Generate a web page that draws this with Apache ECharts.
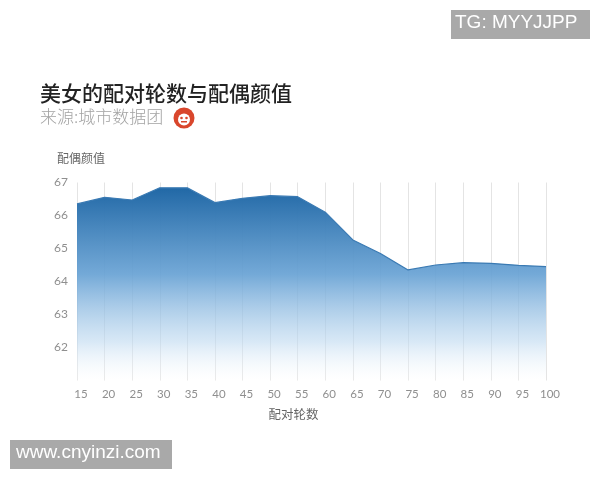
<!DOCTYPE html>
<html>
<head>
<meta charset="utf-8">
<script src="https://cdn.jsdelivr.net/npm/echarts@6/dist/echarts.min.js"></script>
<style>
html,body{margin:0;padding:0;background:#fff;}
#c{width:600px;height:480px;}
</style>
</head>
<body>
<div id="c"></div>
<script>
var rounds = ['15','20','25','30','35','40','45','50','55','60','65','70','75','80','85','90','95','100'];
var spouseScore = [66.35, 66.55, 66.47, 66.84, 66.84, 66.39, 66.52, 66.6, 66.57, 66.1, 65.26, 64.85, 64.35, 64.5, 64.57, 64.55, 64.49, 64.45];
var yTicks = [62, 63, 64, 65, 66, 67];

var chart = echarts.init(document.getElementById('c'), null, {renderer: 'canvas'});
var cjk = '"Noto Sans CJK SC", "Noto Sans", sans-serif';
chart.setOption({
  backgroundColor: '#fff',
  animation: false,
  grid: {left: 77, right: 54, top: 182.5, bottom: 99.5},
  xAxis: {
    type: 'category',
    data: rounds,
    boundaryGap: false,
    axisLine: {show: false},
    axisTick: {show: false},
    axisLabel: {color: '#8f8f8f', fontSize: 11.5, margin: 8, padding: [0,0,0,8], fontFamily: 'Lato, sans-serif'},
    splitLine: {show: true, lineStyle: {color: '#e4e4e4', width: 1}},
    name: '配对轮数',
    nameLocation: 'middle',
    nameGap: 27,
    nameTextStyle: {color: '#666', fontSize: 12.5, fontFamily: cjk, padding: [0, 36, 0, 0]}
  },
  yAxis: {
    type: 'value',
    min: 61, max: 67, interval: 1,
    axisLine: {show: false},
    axisTick: {show: false},
    splitLine: {show: false},
    axisLabel: {
      color: '#8f8f8f', fontSize: 12, margin: 9, fontFamily: 'Lato, sans-serif',
      formatter: function (v) { return yTicks.indexOf(v) >= 0 ? String(v) : ''; }
    },
    name: '配偶颜值',
    nameLocation: 'end',
    nameGap: 18,
    nameTextStyle: {color: '#666', fontSize: 12, fontFamily: cjk, align: 'left', padding: [0, 0, 0, -20]}
  },
  series: [{
    type: 'line',
    data: spouseScore,
    symbol: 'none',
    lineStyle: {color: '#3a7ab3', width: 1.2},
    areaStyle: {
      opacity: 1,
      color: new echarts.graphic.LinearGradient(0, 0, 0, 1, [
        {offset: 0, color: 'rgba(33,104,166,1)'},
        {offset: 0.45, color: 'rgba(104,162,212,0.92)'},
        {offset: 0.8, color: 'rgba(190,217,240,0.6)'},
        {offset: 1, color: 'rgba(255,255,255,0.2)'}
      ])
    },
    z: 2
  }],
  graphic: [
    {type: 'text', left: 40, top: 83, style: {text: '美女的配对轮数与配偶颜值', fill: '#222', font: '500 21px ' + cjk}},
    {type: 'text', left: 40, top: 108, style: {text: '来源:城市数据团', fill: '#a3a3a3', font: '300 17px ' + cjk}},
    {type: 'circle', shape: {cx: 184, cy: 118, r: 10.5}, style: {fill: '#d9462c'}},
    {type: 'circle', shape: {cx: 184, cy: 119.5, r: 6}, style: {fill: '#fff'}},
    {type: 'circle', shape: {cx: 181.5, cy: 118, r: 1.3}, style: {fill: '#d9462c'}},
    {type: 'circle', shape: {cx: 186.5, cy: 118, r: 1.3}, style: {fill: '#d9462c'}},
    {type: 'rect', shape: {x: 181, y: 121, width: 6, height: 1.5}, style: {fill: '#d9462c'}},
    {type: 'rect', shape: {x: 451, y: 10, width: 139, height: 29}, style: {fill: '#a9a9a9'}},
    {type: 'text', left: 455, top: 13.5, style: {text: 'TG: MYYJJPP', fill: '#fff', font: '19px "Liberation Sans", Arial, sans-serif'}},
    {type: 'rect', shape: {x: 10, y: 440, width: 162, height: 29}, style: {fill: '#a9a9a9'}},
    {type: 'text', left: 16, top: 443.5, style: {text: 'www.cnyinzi.com', fill: '#fff', font: '19px "Liberation Sans", Arial, sans-serif'}}
  ]
});
</script>
</body>
</html>
